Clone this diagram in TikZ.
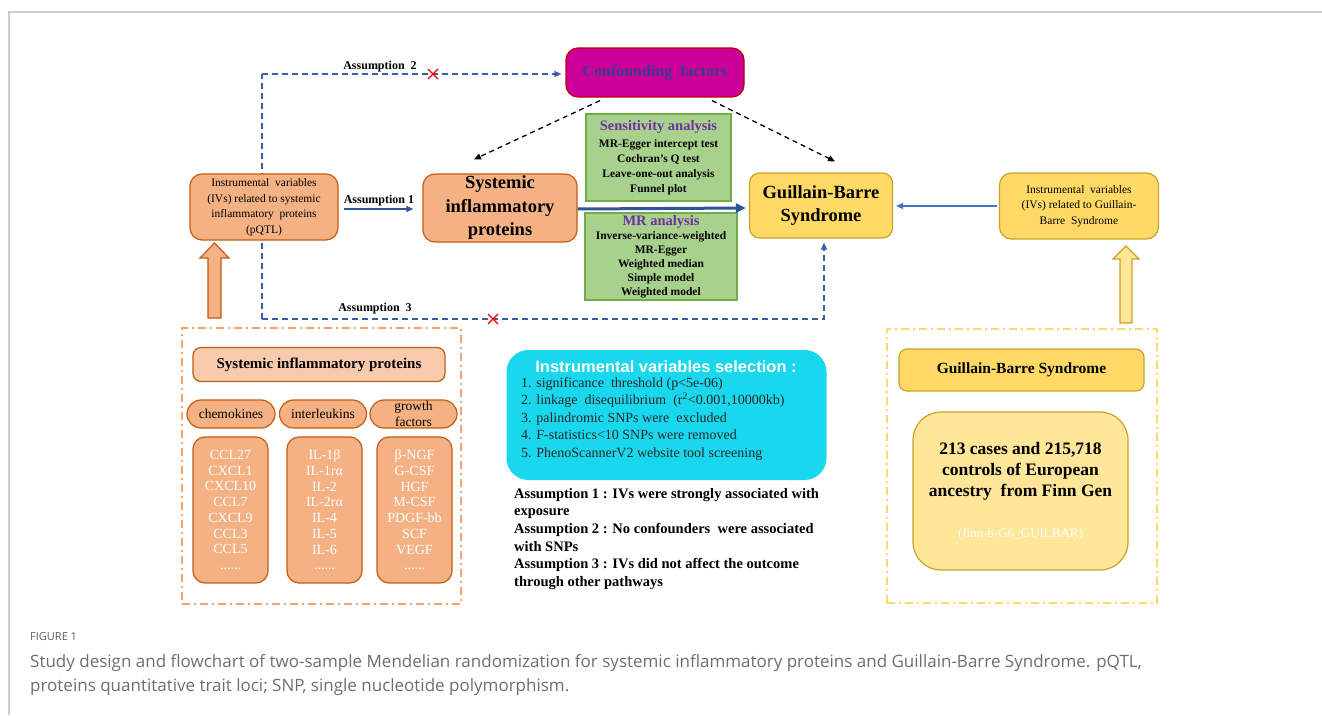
\documentclass[tikz,border=0pt]{standalone}
\usepackage{fontspec}
\setmainfont{Liberation Serif}
\newfontfamily\capfont{Open Sans}
\newfontfamily\selfont{Liberation Sans}
\usetikzlibrary{arrows.meta}
\pgfdeclarelayer{background}
\pgfsetlayers{background,main}
\definecolor{orfill}{HTML}{F4B183}
\definecolor{ordraw}{HTML}{C55A11}
\definecolor{orlight}{HTML}{F8CBAD}
\definecolor{ordash}{HTML}{F4A46A}
\definecolor{yefill}{HTML}{FFD966}
\definecolor{yedraw}{HTML}{C9A227}
\definecolor{yelight}{HTML}{FFE699}
\definecolor{yedash}{HTML}{FFD966}
\definecolor{grfill}{HTML}{A9D18E}
\definecolor{grdraw}{HTML}{70AD47}
\definecolor{mrpurple}{HTML}{7030A0}
\definecolor{cyanfill}{HTML}{19D8EE}
\definecolor{confill}{HTML}{CC0099}
\definecolor{condraw}{HTML}{C00000}
\definecolor{context}{HTML}{3A3A8E}
\definecolor{dblue}{HTML}{2F5597}
\definecolor{mblue}{HTML}{4472C4}
\definecolor{dashblue}{HTML}{3A5EA8}
\definecolor{capgray}{HTML}{6E6E6E}
\definecolor{framegray}{HTML}{CCCCCC}
\tikzset{
  box/.style={rounded corners=12pt, line width=1.2pt, inner sep=0pt, align=center},
  obox/.style={box, fill=orfill, draw=ordraw},
  ybox/.style={box, fill=yefill, draw=yedraw},
  gbox/.style={fill=grfill, draw=grdraw, line width=1.2pt, inner sep=0pt, align=center,
    font=\fontsize{11.5}{15}\selectfont\bfseries},
  smalltext/.style={font=\fontsize{11.5}{15.5}\selectfont},
  bigtext/.style={font=\fontsize{18.5}{23.5}\selectfont\bfseries},
  asslabel/.style={font=\fontsize{12}{14}\selectfont\bfseries, inner sep=0pt},
  bdash/.style={draw=dashblue, dash pattern=on 6pt off 4pt, line width=1.3pt},
  kdash/.style={draw=black, dash pattern=on 5pt off 4pt, line width=1.3pt,
    -{Triangle[length=7pt,width=6pt]}},
  tip/.style={-{Triangle[length=7pt,width=6pt]}},
  pill/.style={rounded corners=14pt, fill=orfill, draw=ordraw, line width=1.2pt,
    inner sep=0pt, align=center, minimum height=28pt, font=\fontsize{13.5}{15}\selectfont},
  listbox/.style={rounded corners=12pt, fill=orfill, draw=ordraw, line width=1.2pt,
    inner sep=0pt, align=center, minimum width=75pt, minimum height=146pt,
    text=white, font=\fontsize{14}{15.7}\selectfont},
  ddframe/.style={dash pattern=on 8pt off 4pt on 2pt off 4pt, line width=1.6pt,
    inner sep=0pt},
  captext/.style={anchor=base west, inner sep=0pt, text=capgray, font=\capfont\fontsize{17}{24}\selectfont},
}
\begin{document}
\begin{tikzpicture}[x=1pt,y=-1pt]
\useasboundingbox (0,0) rectangle (1322,715);

% ---------- top part ----------
\node[box, fill=confill, draw=condraw, minimum width=178pt, minimum height=49pt,
  text=context, font=\fontsize{16}{18}\selectfont\bfseries] (conf) at (655,72.5) {Confounding\ \ factors};

\node[obox, smalltext, minimum width=148pt, minimum height=66pt] (iv1) at (264,207)
  {Instrumental\ \ variables\\(IVs) related to systemic\\inflammatory\ \ proteins\\(pQTL)};

\node[obox, bigtext, minimum width=154pt, minimum height=68pt] (sip) at (500,208)
  {Systemic\\inflammatory\\proteins};

\node[ybox, bigtext, minimum width=143pt, minimum height=65pt, rounded corners=10pt] (gbs) at (821,205.5)
  {Guillain-Barre\\Syndrome};

\node[ybox, smalltext, minimum width=159pt, minimum height=66pt] (iv2) at (1079,206)
  {Instrumental\ \ variables\\(IVs) related to Guillain-\\Barre\ \ Syndrome};

\node[gbox, minimum width=145pt, minimum height=87pt] (sens) at (658.5,157.5)
  {{\color{mrpurple}\fontsize{14.5}{16}\selectfont Sensitivity analysis}\\[2pt]
   MR-Egger intercept test\\Cochran’s Q test\\Leave-one-out analysis\\Funnel plot};

\node[gbox, font=\fontsize{11.5}{14}\selectfont\bfseries, minimum width=152pt, minimum height=87pt] (mra) at (661,256.5)
  {{\color{mrpurple}\fontsize{14.5}{16}\selectfont MR analysis}\\
   Inverse-variance-weighted\\MR-Egger\\Weighted median\\Simple model\\Weighted model};

% assumption 1 arrow
\draw[dblue, line width=1.5pt, tip] ([xshift=5pt,yshift=-2pt]iv1.east) -- ([xshift=-9pt,yshift=-1pt]sip.west);
\node[asslabel] (a1lab) at (379,201) {Assumption 1};

% thick arrow
\draw[dblue, line width=3pt, -{Triangle[length=10pt,width=9pt]}] ([yshift=-1pt]sip.east) -- ([xshift=-3pt]sip.east -| gbs.west);

% IV2 -> GBS
\draw[mblue, line width=1.3pt, -{Triangle[length=7pt,width=6pt]}] ([xshift=-2pt]iv2.west) -- ([xshift=3pt]iv2.west -| gbs.east);

% confounding dashed arrows
\draw[kdash] ([xshift=-55pt,yshift=-3pt]conf.south) -- ([xshift=-26pt,yshift=14pt]sip.north);
\draw[kdash] ([xshift=57pt,yshift=-3pt]conf.south) -- ([xshift=14pt,yshift=11pt]gbs.north);

% assumption 2 / 3 lines
\coordinate (a2c) at (262,74);
\coordinate (a3c) at (262,319);
\begin{pgfonlayer}{background}
\draw[bdash] (a3c) -- (a2c);
\draw[bdash, tip] (a2c) -- ([xshift=-4pt]a2c -| conf.west);
\draw[bdash, tip] (a3c) -- ([xshift=3pt]a3c -| gbs.south) -- ([xshift=3pt,yshift=-4pt]gbs.south);
\end{pgfonlayer}
\node[asslabel] (a2lab) at (380,67) {Assumption\ \ 2};
\node[asslabel] (a3lab) at (375,309) {Assumption\ \ 3};
\draw[red, line width=1.3pt] (428,69) -- (438,79) (428,79) -- (438,69);
\draw[red, line width=1.3pt] (488,314) -- (498,324) (488,324) -- (498,314);

% block arrows
\draw[ordraw, fill=orfill, line width=1.2pt, line join=miter]
  (208,318) -- (208,258) -- (200,258) -- (214.5,243) -- (229,258) -- (221,258) -- (221,318) -- cycle;
\draw[yedraw, fill=yelight, line width=1.2pt, line join=miter]
  (1120,323) -- (1120,259) -- (1113,259) -- (1126,246) -- (1139,259) -- (1132,259) -- (1132,323) -- cycle;

% ---------- bottom left ----------
\node[ddframe, draw=ordash, minimum width=279pt, minimum height=276pt] (lframe) at (321.5,466) {};
\node[box, fill=orlight, draw=ordraw, minimum width=252pt, minimum height=34pt, rounded corners=8pt,
  font=\fontsize{15}{17}\selectfont\bfseries] (siphdr) at (319,364.5) {Systemic inflammatory proteins};
\node[pill, minimum width=88pt] (chem) at (231,414) {chemokines};
\node[pill, minimum width=87pt] (inter) at (323,414) {interleukins};
\node[pill, minimum width=87pt, font=\fontsize{13.5}{15.5}\selectfont] (growth) at (413.5,414) {growth\\factors};
\node[listbox] (l1) at (230.5,510) {CCL27\\CXCL1\\CXCL10\\CCL7\\CXCL9\\CCL3\\CCL5\\......};
\node[listbox] (l2) at (324.5,510) {IL-1β\\IL-1rα\\IL-2\\IL-2rα\\IL-4\\IL-5\\IL-6\\......};
\node[listbox] (l3) at (414.5,510) {β-NGF\\G-CSF\\HGF\\M-CSF\\PDGF-bb\\SCF\\VEGF\\......};

% ---------- middle ----------
\node[rounded corners=22pt, fill=cyanfill, minimum width=320pt, minimum height=130pt, inner sep=0pt] (sel) at (666.5,415) {};
\node[text=white, font=\selfont\bfseries\fontsize{16.5}{19}\selectfont, inner sep=0pt] (seltitle) at (666,367) {Instrumental variables selection :};
\node[anchor=north west, align=left, inner sep=0pt, font=\fontsize{14}{17.5}\selectfont, text=black!85] (selitems) at (521,377)
  {1. significance\ \ threshold (p<5e-06)\\
   2. linkage\ \ disequilibrium\ \ (r\textsuperscript{2}<0.001,10000kb)\\
   3. palindromic SNPs were\ \ excluded\\
   4. F-statistics<10 SNPs were removed\\
   5. PhenoScannerV2 website tool screening};
\node[anchor=north west, align=left, inner sep=0pt, font=\fontsize{14.5}{17.6}\selectfont\bfseries] (asstext) at (514,488)
  {Assumption 1 : IVs were strongly associated with\\
   exposure\\
   Assumption 2 : No confounders\ \ were associated\\
   with SNPs\\
   Assumption 3 : IVs did not affect the outcome\\
   through other pathways};

% ---------- bottom right ----------
\node[ddframe, draw=yedash, minimum width=270pt, minimum height=274pt] (rframe) at (1022,466) {};
\node[box, fill=yefill, draw=yedraw, minimum width=245pt, minimum height=42pt, rounded corners=8pt,
  font=\fontsize{15.5}{17}\selectfont\bfseries] (gbshdr) at (1021.5,370) {Guillain-Barre Syndrome};
\node[box, fill=yelight, draw=yedraw, minimum width=215pt, minimum height=158pt, rounded corners=28pt,
  font=\fontsize{17.5}{21}\selectfont\bfseries] (cases) at (1020.5,491)
  {213 cases and 215,718\\controls of European\\ancestry\ \ from Finn Gen\\[20pt]
   {\mdseries\color{white}\fontsize{13}{15}\selectfont (finn-b-G6\_GUILBAR)}};

% ---------- frame and caption ----------
\begin{pgfonlayer}{background}
\draw[framegray, line width=1.5pt] (9,715) -- (9,12) -- (1322,12);
\end{pgfonlayer}
\node[anchor=base west, inner sep=0pt, text=capgray!85!black, font=\capfont\fontsize{11}{12}\selectfont] (fig) at (30,640) {FIGURE 1};
\node[captext] (cap1) at (30,667)
  {Study design and flowchart of two-sample Mendelian randomization for systemic inflammatory proteins and Guillain-Barre Syndrome. pQTL,};
\node[captext] (cap2) at (30,691)
  {proteins quantitative trait loci; SNP, single nucleotide polymorphism.};
\end{tikzpicture}
\end{document}
